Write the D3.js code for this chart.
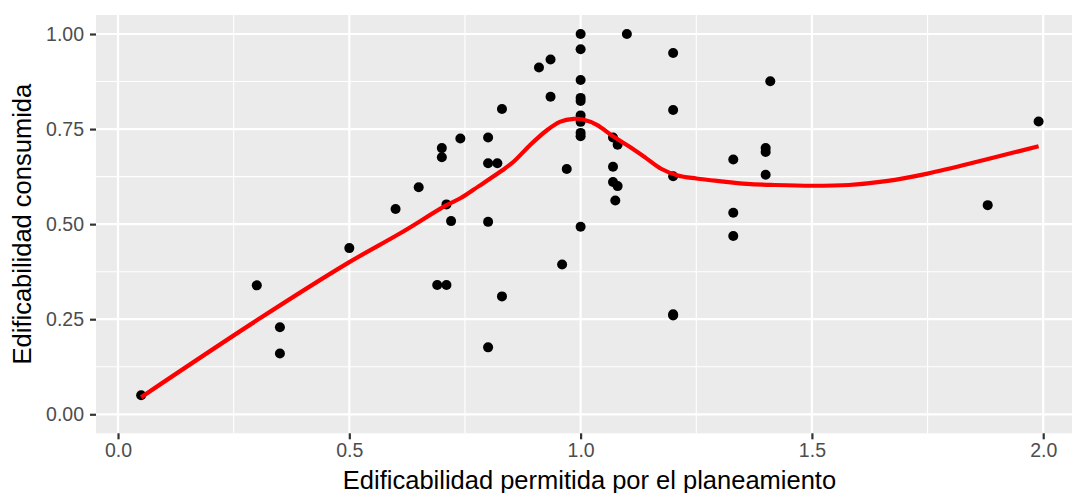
<!DOCTYPE html>
<html>
<head>
<meta charset="utf-8">
<script src="https://cdn.jsdelivr.net/npm/d3@7"></script>
<style>
  html, body { margin: 0; padding: 0; background: #ffffff; }
  svg { display: block; }
  text { font-family: "Liberation Sans", Arial, sans-serif; }
</style>
</head>
<body>
<svg id="chart" width="1072" height="493"></svg>
<script>
// Observed plots: permitted vs consumed buildability
const permitida = [
  0.05, 0.30, 0.35, 0.35, 0.50, 0.60, 0.65, 0.70, 0.70, 0.71, 0.72, 0.69, 0.71,
  0.74, 0.80, 0.80, 0.82, 0.80, 0.83, 0.83, 0.80, 0.91, 0.935, 0.935, 0.97, 0.96,
  1.00, 1.00, 1.00, 1.00, 1.00, 1.00, 1.00, 1.00, 1.00, 1.00,
  1.10, 1.07, 1.08, 1.07, 1.07, 1.08, 1.075,
  1.20, 1.20, 1.20, 1.20, 1.20,
  1.33, 1.33, 1.33, 1.40, 1.40, 1.40, 1.41, 1.88, 1.99
];
const consumida = [
  0.05, 0.339, 0.229, 0.160, 0.437, 0.540, 0.597, 0.700, 0.676, 0.552, 0.508, 0.340, 0.340,
  0.725, 0.728, 0.660, 0.660, 0.506, 0.803, 0.310, 0.176, 0.912, 0.933, 0.835, 0.645, 0.394,
  1.000, 0.960, 0.879, 0.832, 0.824, 0.786, 0.769, 0.740, 0.731, 0.493,
  1.000, 0.728, 0.709, 0.651, 0.611, 0.600, 0.562,
  0.950, 0.800, 0.626, 0.263, 0.260,
  0.670, 0.530, 0.469, 0.700, 0.690, 0.630, 0.876, 0.550, 0.770
];

// Local regression trend (smoothed fit)
const trendX = [0.05, 0.30, 0.50, 0.61, 0.71, 0.74, 0.78, 0.83, 0.855, 0.89, 0.925, 0.955,
  0.985, 1.005, 1.035, 1.07, 1.105, 1.14, 1.175, 1.21, 1.25, 1.30, 1.36, 1.42, 1.50,
  1.58, 1.66, 1.75, 1.87, 1.99];
const trendY = [0.045, 0.247, 0.400, 0.476, 0.550, 0.568, 0.600, 0.641, 0.664, 0.707, 0.745, 0.769,
  0.777, 0.775, 0.761, 0.731, 0.704, 0.675, 0.645, 0.628, 0.620, 0.613, 0.606, 0.603, 0.601,
  0.603, 0.613, 0.633, 0.668, 0.705];

const xTicks = [0, 0.5, 1.0, 1.5, 2.0];
const xTickLabels = ["0.0", "0.5", "1.0", "1.5", "2.0"];
const yTicks = [0, 0.25, 0.5, 0.75, 1.0];
const yTickLabels = ["0.00", "0.25", "0.50", "0.75", "1.00"];
const xMinor = [0.25, 0.75, 1.25, 1.75];
const yMinor = [0.125, 0.375, 0.625, 0.875];

const xTitle = "Edificabilidad permitida por el planeamiento";
const yTitle = "Edificabilidad consumida";

const panel = { left: 96, top: 15, right: 1083, bottom: 433.3 };

const x = d3.scaleLinear().domain([-0.0476, 2.086]).range([panel.left, panel.right]);
const y = d3.scaleLinear().domain([-0.05, 1.05]).range([panel.bottom, panel.top]);

const svg = d3.select("#chart");

// panel background
svg.append("rect")
  .attr("x", panel.left).attr("y", panel.top)
  .attr("width", panel.right - panel.left).attr("height", panel.bottom - panel.top)
  .attr("fill", "#EBEBEB");

const grid = svg.append("g");
// minor grid
grid.selectAll(".vminor").data(xMinor).enter().append("line")
  .attr("x1", d => x(d)).attr("x2", d => x(d))
  .attr("y1", panel.top).attr("y2", panel.bottom)
  .attr("stroke", "#ffffff").attr("stroke-width", 1.1);
grid.selectAll(".hminor").data(yMinor).enter().append("line")
  .attr("x1", panel.left).attr("x2", panel.right)
  .attr("y1", d => y(d)).attr("y2", d => y(d))
  .attr("stroke", "#ffffff").attr("stroke-width", 1.1);
// major grid
grid.selectAll(".vmajor").data(xTicks).enter().append("line")
  .attr("x1", d => x(d)).attr("x2", d => x(d))
  .attr("y1", panel.top).attr("y2", panel.bottom)
  .attr("stroke", "#ffffff").attr("stroke-width", 2.2);
grid.selectAll(".hmajor").data(yTicks).enter().append("line")
  .attr("x1", panel.left).attr("x2", panel.right)
  .attr("y1", d => y(d)).attr("y2", d => y(d))
  .attr("stroke", "#ffffff").attr("stroke-width", 2.2);

// points
svg.append("g").selectAll("circle")
  .data(permitida.map((v, i) => [v, consumida[i]]))
  .enter().append("circle")
  .attr("cx", d => x(d[0])).attr("cy", d => y(d[1]))
  .attr("r", 5).attr("fill", "#000000");

// trend line
const line = d3.line()
  .x(d => x(d[0])).y(d => y(d[1]))
  .curve(d3.curveCatmullRom.alpha(0.5));
svg.append("path")
  .datum(trendX.map((v, i) => [v, trendY[i]]))
  .attr("d", line)
  .attr("fill", "none")
  .attr("stroke", "#FF0000")
  .attr("stroke-width", 4.2)
  .attr("stroke-linejoin", "round");

// x axis
const xAxis = d3.axisBottom(x).tickValues(xTicks)
  .tickFormat((d, i) => xTickLabels[i]).tickSize(6).tickPadding(4);
const gx = svg.append("g").attr("transform", `translate(0,${panel.bottom})`).call(xAxis);
gx.select(".domain").remove();
gx.selectAll(".tick line").attr("stroke", "#333333").attr("stroke-width", 2.2);
gx.selectAll(".tick text").attr("fill", "#4D4D4D").style("font-size", "19.5px")
  .style("font-family", "'Liberation Sans', Arial, sans-serif");

// y axis
const yAxis = d3.axisLeft(y).tickValues(yTicks)
  .tickFormat((d, i) => yTickLabels[i]).tickSize(6).tickPadding(6);
const gy = svg.append("g").attr("transform", `translate(${panel.left},0)`).call(yAxis);
gy.select(".domain").remove();
gy.selectAll(".tick line").attr("stroke", "#333333").attr("stroke-width", 2.2);
gy.selectAll(".tick text").attr("fill", "#4D4D4D").style("font-size", "19.5px")
  .style("font-family", "'Liberation Sans', Arial, sans-serif");

// axis titles
svg.append("text")
  .attr("x", (panel.left + panel.right) / 2).attr("y", 489)
  .attr("text-anchor", "middle")
  .style("font-size", "25.5px").attr("fill", "#000000")
  .text(xTitle);
svg.append("text")
  .attr("transform", `translate(31,${(panel.top + panel.bottom) / 2}) rotate(-90)`)
  .attr("text-anchor", "middle")
  .style("font-size", "25.5px").attr("fill", "#000000")
  .text(yTitle);
</script>
</body>
</html>
